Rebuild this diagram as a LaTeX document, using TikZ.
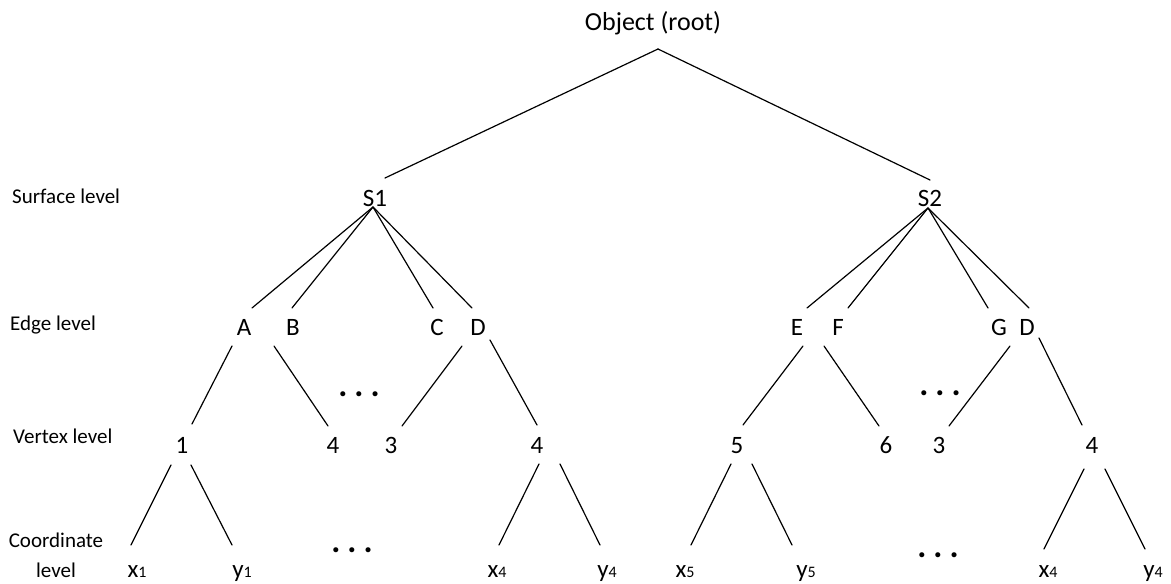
\documentclass[tikz,border=0pt]{standalone}
\usepackage{fontspec}
\setmainfont{Carlito}
\usetikzlibrary{calc}
\newcommand\mysub[1]{{\fontsize{16}{16}\selectfont #1}}
\newcommand\mydots{\textbf{.}\hspace{7pt}\textbf{.}\hspace{7pt}\textbf{.}}
\begin{document}
\begin{tikzpicture}[x=1pt,y=-1pt,
  lbl/.style={inner sep=0pt,anchor=base,font=\fontsize{25}{25}\selectfont},
  rootlbl/.style={inner sep=0pt,anchor=base,font=\fontsize{26}{26}\selectfont},
  lvl/.style={inner sep=0pt,anchor=base west,font=\fontsize{21}{21}\selectfont},
  dotsnode/.style={inner sep=0pt,anchor=base,font=\fontsize{34}{34}\selectfont},
  conn/.style={line width=1.2pt,line cap=round}]
\useasboundingbox (0,0) rectangle (1171,584);
% level labels
\node[lvl] (lsurf) at (12,203) {Surface level};
\node[lvl] (ledge) at (10,330) {Edge level};
\node[lvl] (lvert) at (13,443) {Vertex level};
\node[inner sep=0pt,anchor=base,align=center,font=\fontsize{21}{30}\selectfont] (lcoord) at (56,577) {Coordinate\\level};
% root and surfaces
\node[rootlbl] (root) at (653,30) {Object (root)};
\node[lbl] (s1) at (375,206) {S1};
\node[lbl] (s2) at (930,206) {S2};
% edges
\node[lbl] (ea) at (244,335) {A};
\node[lbl] (eb) at (293,335) {B};
\node[lbl] (ec) at (437,335) {C};
\node[lbl] (ed) at (478,335) {D};
\node[lbl] (ee) at (797,335) {E};
\node[lbl] (ef) at (838,335) {F};
\node[lbl] (eg) at (999,335) {G};
\node[lbl] (ed2) at (1027,335) {D};
% vertices
\node[lbl] (v1) at (182,453) {1};
\node[lbl] (v4a) at (333,453) {4};
\node[lbl] (v3a) at (391,453) {3};
\node[lbl] (v4b) at (537,453) {4};
\node[lbl] (v5) at (737,453) {5};
\node[lbl] (v6) at (886,453) {6};
\node[lbl] (v3b) at (939,453) {3};
\node[lbl] (v4c) at (1092,453) {4};
% coordinates
\node[lbl] (x1) at (137,577) {x\mysub{1}};
\node[lbl] (y1) at (242,577) {y\mysub{1}};
\node[lbl] (x4a) at (497,577) {x\mysub{4}};
\node[lbl] (y4a) at (607,577) {y\mysub{4}};
\node[lbl] (x5) at (685,577) {x\mysub{5}};
\node[lbl] (y5) at (806,577) {y\mysub{5}};
\node[lbl] (x4b) at (1048,577) {x\mysub{4}};
\node[lbl] (y4b) at (1153,577) {y\mysub{4}};
% dots
\node[dotsnode] (dmid1) at (359,396) {\mydots};
\node[dotsnode] (dmid2) at (940,395) {\mydots};
\node[dotsnode] (dbot1) at (352,552) {\mydots};
\node[dotsnode] (dbot2) at (938,557) {\mydots};
% connectors: root
\draw[conn] ($(root.base)+(5,19)$) -- ($(s1.base)+(10,-28)$);
\draw[conn] ($(root.base)+(5,19)$) -- ($(s2.base)+(0,-26)$);
% S1
\draw[conn] ($(s1.base)+(-2,1)$) -- ($(ea.base)+(8,-27)$);
\draw[conn] ($(s1.base)+(-2,1)$) -- ($(eb.base)+(-1,-27)$);
\draw[conn] ($(s1.base)+(-2,1)$) -- ($(ec.base)+(-4,-27)$);
\draw[conn] ($(s1.base)+(-2,1)$) -- ($(ed.base)+(-6,-27)$);
% S2
\draw[conn] ($(s2.base)+(-2,2)$) -- ($(ee.base)+(10,-27)$);
\draw[conn] ($(s2.base)+(-2,2)$) -- ($(ef.base)+(10,-27)$);
\draw[conn] ($(s2.base)+(-2,2)$) -- ($(eg.base)+(-11,-27)$);
\draw[conn] ($(s2.base)+(-2,2)$) -- ($(ed2.base)+(2,-27)$);
% edge -> vertex
\draw[conn] ($(ea.base)+(-12,11)$) -- ($(v1.base)+(10,-29)$);
\draw[conn] ($(eb.base)+(-19,11)$) -- ($(v4a.base)+(-5,-27)$);
\draw[conn] ($(ed.base)+(-16,11)$) -- ($(v3a.base)+(11,-27)$);
\draw[conn] ($(ed.base)+(12,5)$) -- ($(v4b.base)+(0,-28)$);
\draw[conn] ($(ee.base)+(6,11)$) -- ($(v5.base)+(6,-28)$);
\draw[conn] ($(ef.base)+(-14,11)$) -- ($(v6.base)+(-7,-27)$);
\draw[conn] ($(eg.base)+(11,11)$) -- ($(v3b.base)+(10,-27)$);
\draw[conn] ($(ed2.base)+(12,3)$) -- ($(v4c.base)+(-10,-28)$);
% vertex -> coordinate
\draw[conn] ($(v1.base)+(-11,12)$) -- ($(x1.base)+(-6,-32)$);
\draw[conn] ($(v1.base)+(9,12)$) -- ($(y1.base)+(-10,-32)$);
\draw[conn] ($(v4b.base)+(2,11)$) -- ($(x4a.base)+(2,-32)$);
\draw[conn] ($(v4b.base)+(23,11)$) -- ($(y4a.base)+(-7,-32)$);
\draw[conn] ($(v5.base)+(-6,11)$) -- ($(x5.base)+(6,-32)$);
\draw[conn] ($(v5.base)+(15,11)$) -- ($(y5.base)+(-14,-32)$);
\draw[conn] ($(v4c.base)+(-8,16)$) -- ($(x4b.base)+(-4,-28)$);
\draw[conn] ($(v4c.base)+(13,16)$) -- ($(y4b.base)+(-8,-28)$);
\end{tikzpicture}
\end{document}
